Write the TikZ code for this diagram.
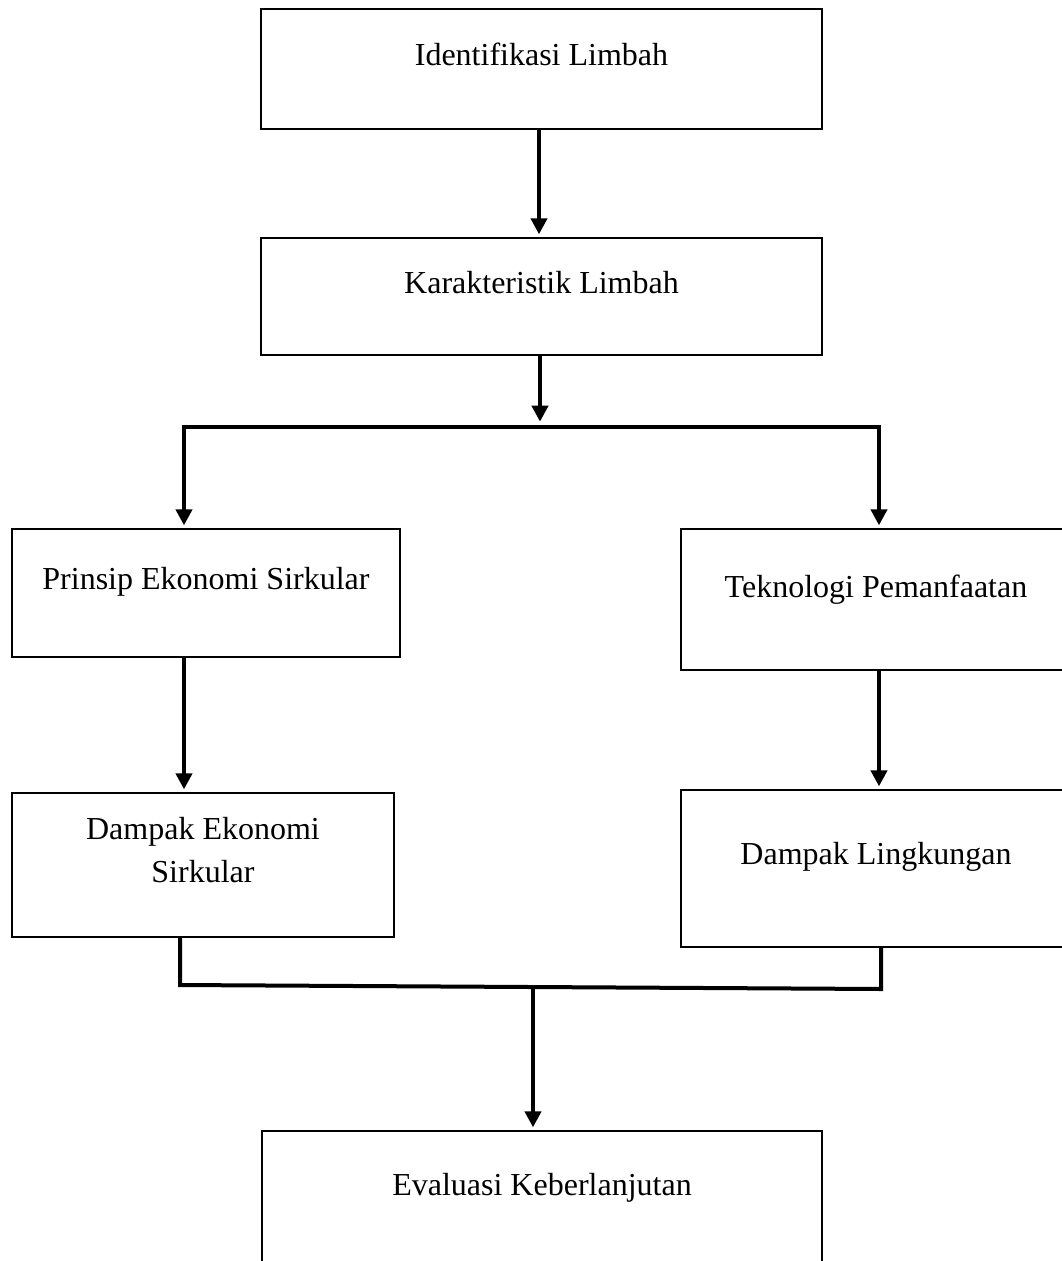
\documentclass[tikz,border=0pt]{standalone}
\usepackage{fontspec}
\setmainfont{Liberation Serif}
\usetikzlibrary{arrows.meta}
\tikzset{
    process/.style={draw=black, line width=1.5pt, inner sep=0pt, align=center,
        font=\fontsize{24}{32.25}\selectfont},
    flow/.style={draw=black, line width=3pt, -{Triangle[length=12pt,width=12pt]}, shorten >=2pt},
    link/.style={draw=black, line width=3pt},
}

\begin{document}
\begin{tikzpicture}[x=0.75pt,y=-0.75pt]
		\path[use as bounding box, clip] (0,0) rectangle (1062,1261);
		\node[process, minimum width=420.75pt, text height=42pt, text depth=48pt] (ident) at (541.5,69) {Identifikasi Limbah};
		\node[process, minimum width=420.75pt, text height=41.25pt, text depth=46.5pt] (karak) at (541.5,296.5) {Karakteristik Limbah};
		\node[process, minimum width=291pt, text height=45pt, text depth=51pt] (prinsip) at (206,593) {Prinsip Ekonomi Sirkular};
		\node[process, minimum width=292.5pt, text height=51pt, text depth=54.75pt] (tekno) at (876,599.5) {Teknologi Pemanfaatan};
		\node[process, minimum width=286.5pt, text height=66.75pt, text depth=41.25pt] (dampakeko) at (203,865) {Dampak Ekonomi\\Sirkular};
		\node[process, minimum width=292.5pt, text height=55.5pt, text depth=62.25pt] (dampakling) at (876,868.5) {Dampak Lingkungan};
		\node[process, minimum width=420pt, text height=48pt, text depth=57pt] (eval) at (542,1201) {Evaluasi Keberlanjutan};
		\coordinate (split) at (540,427);
		\coordinate (splitl) at (184,427);
		\coordinate (splitr) at (879,427);
		\coordinate (joinl) at (180,985);
		\coordinate (joinr) at (881,989);
		\coordinate (joinm) at (533,987);
		\draw[flow] (ident.south -| 539,0) -- (karak.north -| 539,0);
		\draw[flow, shorten >=4pt] (split |- karak.south) -- (split);
		\draw[flow] (split) -| (splitl |- prinsip.north);
		\draw[flow] (split) -| (splitr |- tekno.north);
		\draw[flow] (splitl |- prinsip.south) -- (splitl |- dampakeko.north);
		\draw[flow] (splitr |- tekno.south) -- (splitr |- dampakling.north);
		\draw[link] (joinl |- dampakeko.south) -- (joinl) -- (joinr) -- (joinr |- dampakling.south);
		\draw[flow] (joinm) -- (joinm |- eval.north);
	\end{tikzpicture}
\end{document}
